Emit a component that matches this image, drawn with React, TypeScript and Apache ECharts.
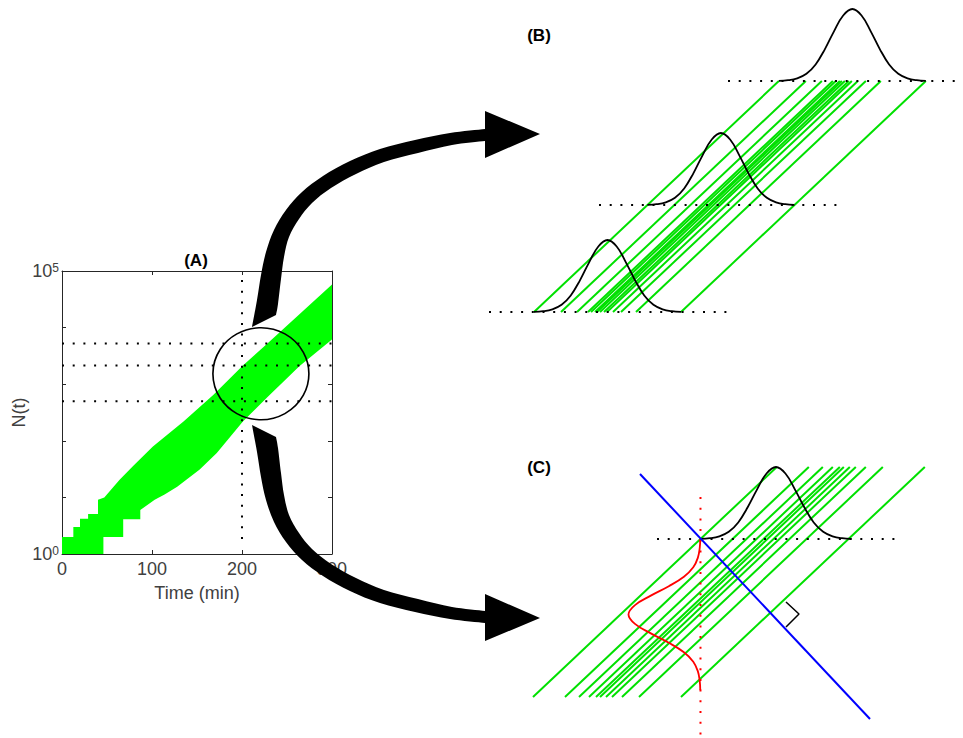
import React, { useEffect, useRef } from "react";
import * as echarts from "echarts";

// ---------- Panel A: simulated growth curves (envelope of the band) ----------
const X_TICKS = [0, 100, 200, 300];
const Y_LABEL_EXPONENTS = [0, 5];
const BAND_UPPER: [number, number][] = [
  [0, 2], [12.6, 2], [12.6, 3], [20, 3], [20, 4.2], [29, 4.2], [29, 5.1], [40, 5.1],
  [40, 9.1], [47, 10], [64, 20.4], [79, 36], [101, 79], [135, 219], [168, 646],
  [201, 2138], [227, 5012], [300, 57544],
];
const BAND_LOWER: [number, number][] = [
  [300, 6166], [264, 2089], [227, 562], [201, 220], [172, 61], [153, 31], [128, 15.5],
  [114, 11.2], [103, 9.1], [87, 6], [87, 4.1], [68, 4.1], [68, 2],
  [46, 2], [46, 1], [0, 1],
];
const CUT_TIME = 200;
const CUT_TIME_SPAN = [69000, 1.5];
const CUT_LEVELS = [5248, 2138, 501];
const ZOOM_CENTER: [number, number] = [221, 1531];

// ---------- Panel B: schematic trajectories ----------
const LEVELS_B = [0, 107, 231];
const DOT_SPANS_B: [number, number][] = [[-45, 196], [65, 306], [194, 426]];
const LAGS_B = [0, 27, 43, 54, 57, 61, 63, 66, 70, 73, 79, 87, 102, 147];
const SLOPE = 1.06;
const GAUSS = [0.003, 0.011, 0.037, 0.1, 0.23, 0.44, 0.69, 0.91, 1, 0.91, 0.69, 0.44, 0.23, 0.1, 0.037, 0.011, 0.003];
const GAUSS_HEIGHT = 72;
const GAUSS_WIDTH_B = 147;

// ---------- Panel C ----------
const LAGS_C = [0, 32, 46, 56, 63, 67, 73, 79, 89, 106, 148];
const TOP_C = 230;
const LEVEL_C = 158;
const DOT_SPAN_C: [number, number] = [124, 364];
const RED_SPAN_C: [number, number] = [200, -41];
const GAUSS_WIDTH_C = 151;
const BLUE_C: [number, number][] = [[107, 223], [337, -22]];
const RIGHT_ANGLE_C: [number, number][] = [[253, 95], [266, 83], [253, 70]];

// decoration: curved arrow outline (upper arrow; lower one is its mirror)
const ARROW_OUTER = [[252, 327], [257, 300], [261, 275], [266, 252], [274, 230], [286, 210], [302, 192], [323, 176], [350, 161], [380, 149], [415, 140], [450, 133], [485, 129]];
const ARROW_HEAD = [[485, 111], [540, 134], [485, 158]];
const ARROW_INNER = [[485, 141], [452, 145], [418, 153], [384, 162], [356, 174], [331, 188], [312, 203], [299, 219], [289, 237], [284, 257], [281, 279], [278, 304], [276, 315]];
const MIRROR_Y = 376;

const FONT = '"Liberation Sans", Arial, Helvetica, sans-serif';
const GRAY = "#404040";
const AXIS_COLOR = "#262626";

function smoothThrough(pts: number[][]) {
  let d = "";
  for (let i = 0; i < pts.length - 1; i++) {
    const p0 = pts[Math.max(i - 1, 0)], p1 = pts[i], p2 = pts[i + 1], p3 = pts[Math.min(i + 2, pts.length - 1)];
    const c1 = [p1[0] + (p2[0] - p0[0]) / 6, p1[1] + (p2[1] - p0[1]) / 6];
    const c2 = [p2[0] - (p3[0] - p1[0]) / 6, p2[1] - (p3[1] - p1[1]) / 6];
    d += ` C ${c1[0]} ${c1[1]} ${c2[0]} ${c2[1]} ${p2[0]} ${p2[1]}`;
  }
  return d;
}

export default function App() {
  const ref = useRef<HTMLDivElement>(null);
  useEffect(() => {
    if (!ref.current) return;
    const d =
      `M ${ARROW_OUTER[0][0]} ${ARROW_OUTER[0][1]}` + smoothThrough(ARROW_OUTER) +
      ARROW_HEAD.map((p) => ` L ${p[0]} ${p[1]}`).join("") +
      ` L ${ARROW_INNER[0][0]} ${ARROW_INNER[0][1]}` + smoothThrough(ARROW_INNER) + " Z";
    echarts.graphic.registerShape("curvedArrow", (echarts.graphic as any).extendPath(d, {}));

    const chart = echarts.init(ref.current, undefined, { renderer: "svg" });

    const dot = { type: [2, 8.7], width: 2, color: "#000", cap: "butt" };
    const line = (xi: number, data: any[], lineStyle: any, z = 3, smooth: any = false) => ({
      type: "line", xAxisIndex: xi, yAxisIndex: xi, data, symbol: "none", lineStyle, z, smooth, silent: true,
    });
    const series: any[] = [];

    // Panel A
    series.push({
      type: "custom", xAxisIndex: 0, yAxisIndex: 0, silent: true, z: 2, data: [[0, 1]],
      renderItem: (_p: any, api: any) => ({
        type: "polygon",
        shape: { points: [...BAND_UPPER, ...BAND_LOWER].map((p) => api.coord(p)) },
        style: { fill: "#00ff00" },
      }),
    });
    series.push(line(0, [[CUT_TIME, CUT_TIME_SPAN[0]], [CUT_TIME, CUT_TIME_SPAN[1]]], dot));
    CUT_LEVELS.forEach((n) => series.push(line(0, [[0, n], [300, n]], dot)));
    series.push({
      type: "scatter", xAxisIndex: 0, yAxisIndex: 0, data: [ZOOM_CENTER], symbol: "circle",
      symbolSize: [96, 92], silent: true, z: 4,
      itemStyle: { color: "rgba(0,0,0,0)", borderColor: "#000", borderWidth: 1.6, opacity: 1 },
    });

    const green = { color: "#00e000", width: 2 };
    const black = { color: "#000", width: 1.8 };

    // Panel B
    LAGS_B.forEach((lag) => series.push(line(2, [[lag, LEVELS_B[0]], [lag + SLOPE * LEVELS_B[2], LEVELS_B[2]]], green, 2)));
    DOT_SPANS_B.forEach((s, i) => series.push(line(2, [[s[0], LEVELS_B[i]], [s[1], LEVELS_B[i]]], dot, 3)));
    LEVELS_B.forEach((lv) => {
      const x0 = SLOPE * lv;
      const pts = GAUSS.map((g, i) => [x0 + (i / (GAUSS.length - 1)) * GAUSS_WIDTH_B, lv + g * GAUSS_HEIGHT]);
      series.push(line(2, pts, black, 4, 0.4));
    });

    // Panel C
    LAGS_C.forEach((lag) => series.push(line(3, [[lag, 0], [lag + SLOPE * TOP_C, TOP_C]], green, 2)));
    series.push(line(3, [[DOT_SPAN_C[0], LEVEL_C], [DOT_SPAN_C[1], LEVEL_C]], dot, 3));
    const xc = SLOPE * LEVEL_C;
    series.push(line(3, [[xc, RED_SPAN_C[0]], [xc, RED_SPAN_C[1]]], { ...dot, color: "#ff0000" }, 3));
    series.push(line(3, GAUSS.map((g, i) => [xc + (i / (GAUSS.length - 1)) * GAUSS_WIDTH_C, LEVEL_C + g * GAUSS_HEIGHT]), black, 4, 0.4));
    series.push(line(3, GAUSS.map((g, i) => [xc - g * GAUSS_HEIGHT, LEVEL_C - (i / (GAUSS.length - 1)) * GAUSS_WIDTH_C]), { color: "#ff0000", width: 1.8 }, 4, 0.4));
    series.push(line(3, BLUE_C, { color: "#0000ff", width: 2 }, 4));
    series.push(line(3, RIGHT_ANGLE_C, { color: "#000", width: 1.5 }, 4));

    const hidden = (gi: number, min: number, max: number) => ({
      gridIndex: gi, type: "value", min, max, show: false,
    });

    const axisBase = {
      axisLine: { show: true, onZero: false, lineStyle: { color: AXIS_COLOR, width: 1 } },
      axisTick: { show: true, inside: true, length: 4, lineStyle: { color: AXIS_COLOR } },
      splitLine: { show: false },
    };

    chart.setOption({
      animation: false,
      backgroundColor: "#fff",
      grid: [
        { left: 62, top: 271, width: 270, height: 283 },
        { left: 480, top: 0, width: 483, height: 330 },
        { left: 480, top: 330, width: 483, height: 408 },
      ],
      xAxis: [
        {
          ...axisBase, gridIndex: 0, type: "value", min: 0, max: 300, interval: 100, position: "bottom",
          axisLabel: { color: GRAY, fontSize: 18, fontFamily: FONT, margin: 6, formatter: (v: number) => (X_TICKS.includes(v) ? String(v) : "") },
          name: "Time (min)", nameLocation: "middle", nameGap: 30,
          nameTextStyle: { color: GRAY, fontSize: 18, fontFamily: FONT },
        },
        { ...axisBase, gridIndex: 0, type: "value", min: 0, max: 300, interval: 100, position: "top", axisLabel: { show: false } },
        hidden(1, -54, 429),
        hidden(2, -53, 430),
      ],
      yAxis: [
        {
          ...axisBase, gridIndex: 0, type: "log", logBase: 10, min: 1, max: 100000, position: "left",
          axisLabel: {
            margin: 3, interval: 0, showMinLabel: true, showMaxLabel: true,
            formatter: (v: number) => {
              const e = Math.round(Math.log10(v));
              return Y_LABEL_EXPONENTS.includes(e) ? `{n|10}{s|${e}}` : "";
            },
            rich: {
              n: { color: GRAY, fontSize: 18, fontFamily: FONT },
              s: { color: GRAY, fontSize: 12, fontFamily: FONT, verticalAlign: "top" },
            },
          },
          name: "N(t)", nameLocation: "middle", nameGap: 34, nameRotate: 90,
          nameTextStyle: { color: GRAY, fontSize: 18, fontFamily: FONT },
        },
        { ...axisBase, gridIndex: 0, type: "log", logBase: 10, min: 1, max: 100000, position: "right", axisLabel: { show: false } },
        hidden(1, -18, 312),
        hidden(2, -41, 367),
      ],
      series,
      graphic: [
        { type: "text", x: 196, y: 260, z: 100, style: { text: "(A)", font: `bold 17px ${FONT}`, fill: "#000", align: "center", verticalAlign: "middle" } },
        { type: "text", x: 539, y: 35, z: 100, style: { text: "(B)", font: `bold 17px ${FONT}`, fill: "#000", align: "center", verticalAlign: "middle" } },
        { type: "text", x: 539, y: 467, z: 100, style: { text: "(C)", font: `bold 17px ${FONT}`, fill: "#000", align: "center", verticalAlign: "middle" } },
        { type: "curvedArrow", x: 0, y: 0, z: 100, style: { fill: "#000" } },
        { type: "curvedArrow", x: 0, y: 2 * MIRROR_Y, scaleY: -1, z: 100, style: { fill: "#000" } },
      ],
    });
    return () => chart.dispose();
  }, []);
  return <div ref={ref} style={{ position: "fixed", left: 0, top: 0, width: 963, height: 738, background: "#fff" }} />;
}
